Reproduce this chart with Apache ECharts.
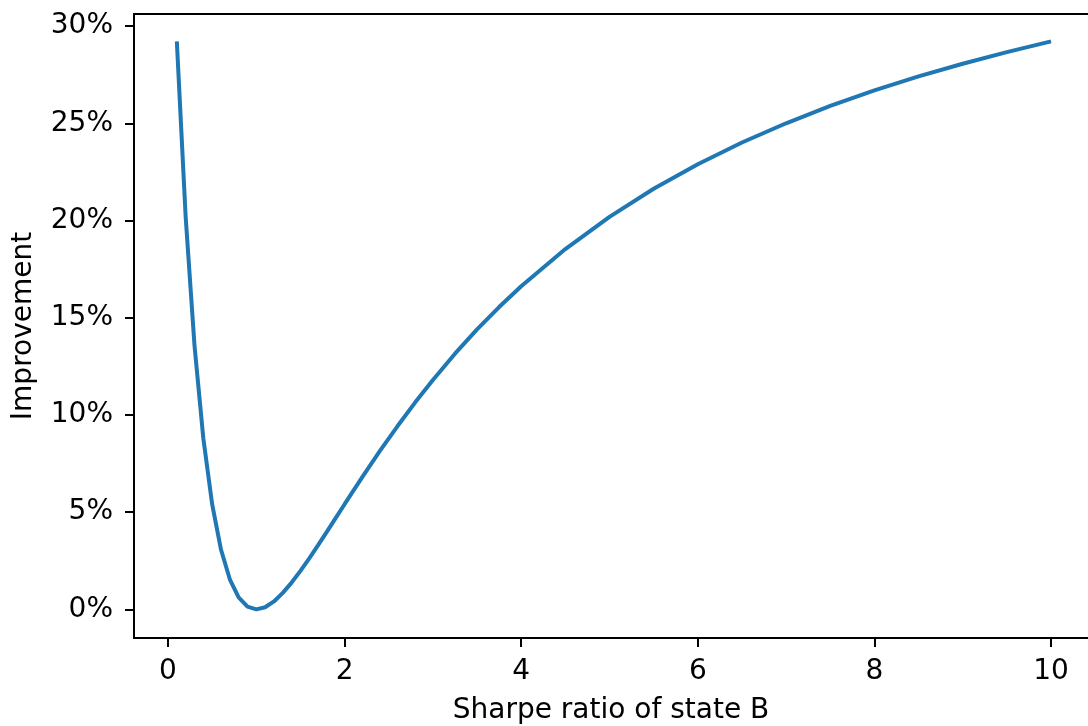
<!DOCTYPE html>
<html>
<head>
<meta charset="utf-8">
<script src="https://cdn.jsdelivr.net/npm/echarts@6/dist/echarts.min.js"></script>
<style>
  html, body { margin: 0; padding: 0; background: #fff; }
  #chart { width: 1088px; height: 726px; }
</style>
</head>
<body>
<div id="chart"></div>
<script>
// Sharpe ratio of state B (x) and improvement in % (y)
var sharpe = [0.1, 0.2, 0.3, 0.4, 0.5, 0.6, 0.7, 0.8, 0.9, 1.0,
              1.1, 1.2, 1.3, 1.4, 1.5, 1.6, 1.7, 1.8, 1.9, 2.0,
              2.2, 2.4, 2.6, 2.8, 3.0, 3.25, 3.5, 3.75, 4.0,
              4.5, 5.0, 5.5, 6.0, 6.5, 7.0, 7.5, 8.0, 8.5, 9.0, 9.5, 10.0];
var improvement = [29.21, 20.19, 13.58, 8.80, 5.41, 3.08, 1.55, 0.62, 0.14, 0.00,
                   0.11, 0.41, 0.85, 1.38, 1.98, 2.63, 3.31, 4.00, 4.71, 5.41,
                   6.80, 8.15, 9.43, 10.65, 11.80, 13.15, 14.40, 15.55, 16.62,
                   18.53, 20.19, 21.63, 22.89, 24.01, 25.00, 25.89, 26.69, 27.41, 28.06, 28.66, 29.21];
var xTicks = [0, 2, 4, 6, 8, 10];
var yTicks = [0, 5, 10, 15, 20, 25, 30];

var points = [];
for (var i = 0; i < sharpe.length; i++) {
    points.push([sharpe[i], improvement[i]]);
}

var font = 'DejaVu Sans';
var axisColor = '#000';
var myChart = echarts.init(document.getElementById('chart'));
var option = {
    animation: false,
    grid: { left: 134, top: 14, right: 0, bottom: 88, outerBoundsMode: 'none' },
    xAxis: [{
        type: 'value',
        min: -0.385,
        max: 10.419,
        name: 'Sharpe ratio of state B',
        nameLocation: 'middle',
        nameGap: 59,
        nameTextStyle: { fontFamily: font, fontSize: 28, color: '#000' },
        splitLine: { show: false },
        axisLine: { onZero: false, lineStyle: { color: axisColor, width: 2 } },
        axisTick: { customValues: xTicks, length: 9, lineStyle: { color: axisColor, width: 2 } },
        axisLabel: { customValues: xTicks, margin: 20, fontFamily: font, fontSize: 28, color: '#000' }
    }, {
        // top spine only
        type: 'value',
        position: 'top',
        min: -0.385,
        max: 10.419,
        splitLine: { show: false },
        axisLine: { onZero: false, lineStyle: { color: axisColor, width: 2 } },
        axisTick: { show: false },
        axisLabel: { show: false }
    }],
    yAxis: {
        type: 'value',
        min: -1.47,
        max: 30.62,
        name: 'Improvement',
        nameLocation: 'middle',
        nameGap: 96,
        nameTextStyle: { fontFamily: font, fontSize: 28, color: '#000' },
        splitLine: { show: false },
        axisLine: { onZero: false, lineStyle: { color: axisColor, width: 2 } },
        axisTick: { customValues: yTicks, length: 9, lineStyle: { color: axisColor, width: 2 } },
        axisLabel: {
            customValues: yTicks, margin: 21, fontFamily: font, fontSize: 28, color: '#000',
            formatter: '{value}%'
        }
    },
    series: [{
        type: 'line',
        data: points,
        showSymbol: false,
        symbol: 'none',
        lineStyle: { color: '#1f77b4', width: 4 }
    }]
};
myChart.setOption(option);
</script>
</body>
</html>
